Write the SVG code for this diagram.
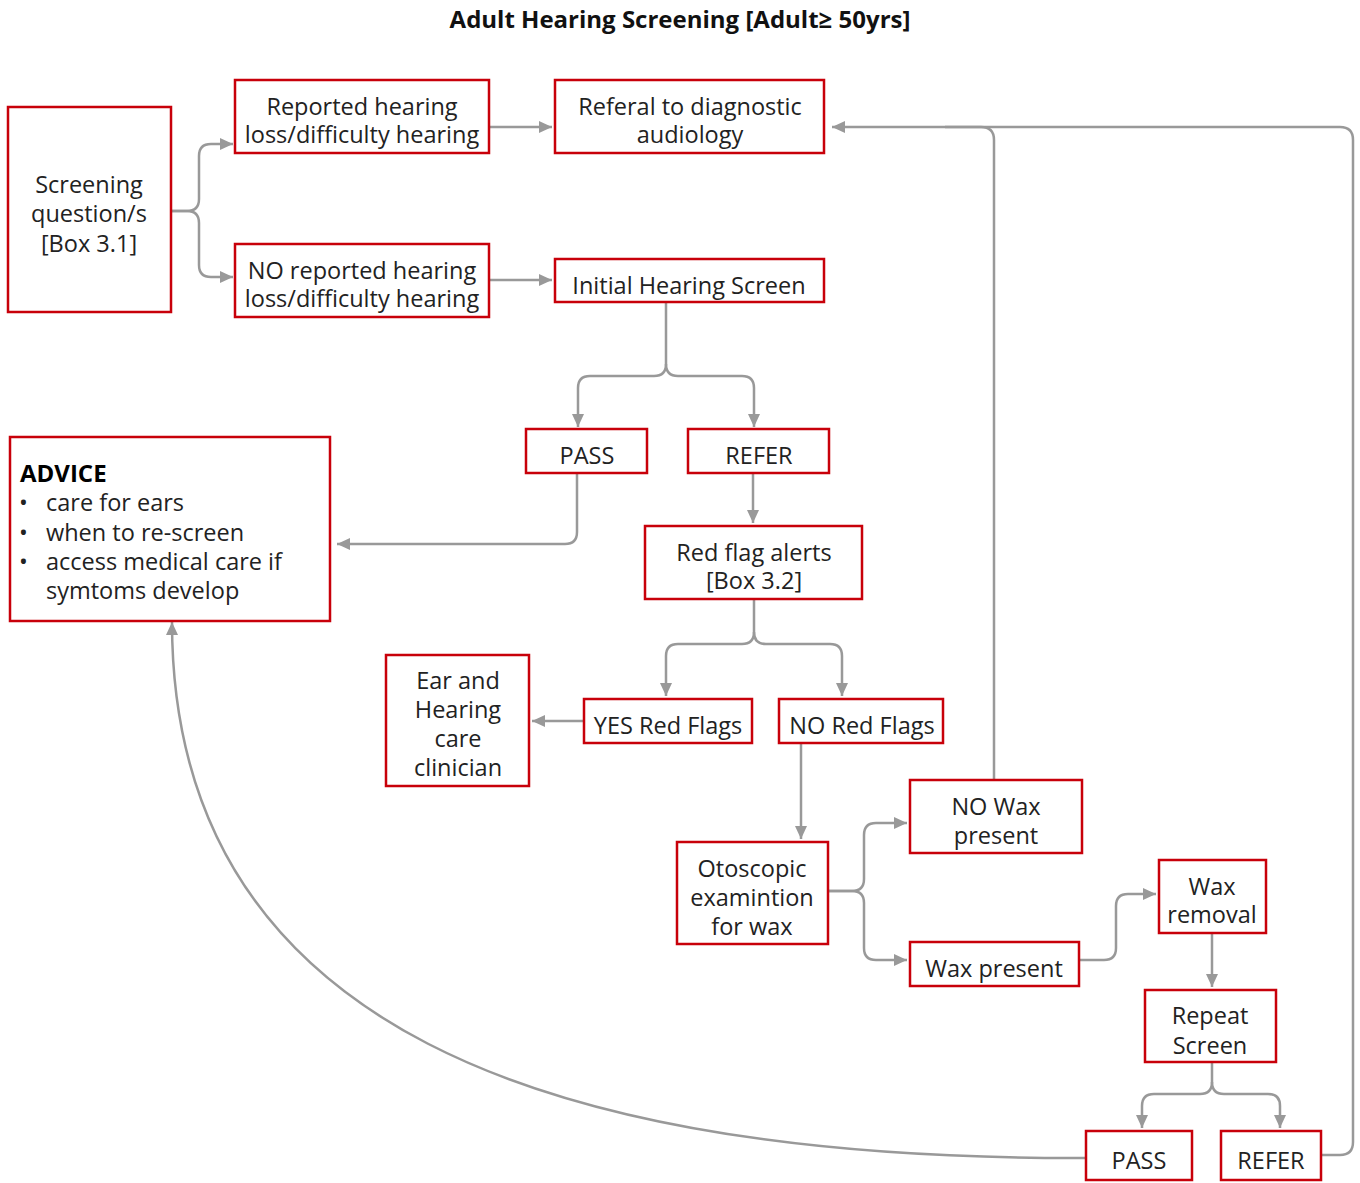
<svg xmlns="http://www.w3.org/2000/svg" width="1360" height="1183" viewBox="0 0 1360 1183">
<style>
.box{fill:#fff;stroke:#c8000a;stroke-width:2.5}
.t{font-family:"Open Sans","Noto Sans","Liberation Sans",sans-serif;font-size:23.5px;fill:#222;text-anchor:middle}
.l{text-anchor:start}
.b{font-weight:bold;font-size:24px;fill:#000}
.title{font-family:"Open Sans","Noto Sans","Liberation Sans",sans-serif;font-size:24px;font-weight:bold;fill:#111;text-anchor:middle}
.c{fill:none;stroke:#999;stroke-width:2.5}
.a{marker-end:url(#ah)}
</style>
<defs>
<marker id="ah" markerUnits="userSpaceOnUse" markerWidth="14" markerHeight="14" viewBox="0 0 14 14" refX="13" refY="7" orient="auto">
<path d="M0,1 L13,7 L0,13 z" fill="#999"/>
</marker>
</defs>
<rect width="1360" height="1183" fill="#fff"/>
<text class="title" x="680" y="28">Adult Hearing Screening [Adult≥ 50yrs]</text>

<g id="connectors">
<path class="c a" d="M171,211 H187 Q199,211 199,199 V156 Q199,144 211,144 H233"/>
<path class="c a" d="M171,211 H187 Q199,211 199,223 V265 Q199,277 211,277 H233"/>
<path class="c a" d="M480,127 H552"/>
<path class="c a" d="M489,280 H552"/>
<path class="c a" d="M666,302 V364 Q666,376 654,376 H590 Q578,376 578,388 V427"/>
<path class="c a" d="M666,364 Q666,376 678,376 H742 Q754,376 754,388 V427"/>
<path class="c a" d="M577,473 V532 Q577,544 565,544 H337"/>
<path class="c a" d="M753,473 V523"/>
<path class="c a" d="M754,599 V632 Q754,644 742,644 H678 Q666,644 666,656 V696"/>
<path class="c a" d="M754,632 Q754,644 766,644 H830 Q842,644 842,656 V696"/>
<path class="c a" d="M584,721 H532"/>
<path class="c a" d="M801,743 V839"/>
<path class="c a" d="M828,891 H852 Q864,891 864,879 V835 Q864,823 876,823 H907"/>
<path class="c a" d="M828,891 H852 Q864,891 864,903 V948 Q864,960 876,960 H907"/>
<path class="c a" d="M1079,960 H1104 Q1116,960 1116,948 V906 Q1116,894 1128,894 H1156"/>
<path class="c a" d="M1212,933 V987"/>
<path class="c a" d="M1212,1062 V1082 Q1212,1094 1200,1094 H1154 Q1142,1094 1142,1106 V1128"/>
<path class="c a" d="M1212,1082 Q1212,1094 1224,1094 H1268 Q1280,1094 1280,1106 V1128"/>
<path class="c a" d="M1321,1155 H1340 Q1353,1155 1353,1142 V140 Q1353,127 1340,127 H832"/>
<path class="c" d="M994,780 V140 Q994,127 981,127 H945"/>
<path class="c a" d="M1086,1158 C550,1160 172,1030 172,622"/>
</g>

<g id="screening"><rect class="box" x="8" y="107" width="163" height="205"/>
<text class="t" x="89" y="193">Screening</text><text class="t" x="89" y="222">question/s</text><text class="t" x="89" y="252">[Box 3.1]</text></g>

<g id="reported"><rect class="box" x="235" y="80" width="254" height="73"/>
<text class="t" x="362" y="115">Reported hearing</text><text class="t" x="362" y="143">loss/difficulty hearing</text></g>

<g id="no-reported"><rect class="box" x="235" y="244" width="254" height="73"/>
<text class="t" x="362" y="279">NO reported hearing</text><text class="t" x="362" y="307">loss/difficulty hearing</text></g>

<g id="referal"><rect class="box" x="555" y="80" width="269" height="73"/>
<text class="t" x="690" y="115">Referal to diagnostic</text><text class="t" x="690" y="143">audiology</text></g>

<g id="initial"><rect class="box" x="555" y="259" width="269" height="43"/>
<text class="t" x="689" y="294">Initial Hearing Screen</text></g>

<g id="pass1"><rect class="box" x="526" y="429" width="121" height="44"/>
<text class="t" x="587" y="464">PASS</text></g>

<g id="refer1"><rect class="box" x="688" y="429" width="141" height="44"/>
<text class="t" x="759" y="464">REFER</text></g>

<g id="advice"><rect class="box" x="10" y="437" width="320" height="184"/>
<text class="t l b" x="20" y="482">ADVICE</text>
<text class="t l" x="19" y="511">•</text><text class="t l" x="46" y="511">care for ears</text>
<text class="t l" x="19" y="541">•</text><text class="t l" x="46" y="541">when to re-screen</text>
<text class="t l" x="19" y="570">•</text><text class="t l" x="46" y="570">access medical care if</text>
<text class="t l" x="46" y="599">symtoms develop</text></g>

<g id="redflag"><rect class="box" x="645" y="526" width="217" height="73"/>
<text class="t" x="754" y="561">Red flag alerts</text><text class="t" x="754" y="589">[Box 3.2]</text></g>

<g id="ear"><rect class="box" x="386" y="655" width="143" height="131"/>
<text class="t" x="458" y="689">Ear and</text><text class="t" x="458" y="718">Hearing</text><text class="t" x="458" y="747">care</text><text class="t" x="458" y="776">clinician</text></g>

<g id="yes-flags"><rect class="box" x="584" y="699" width="168" height="44"/>
<text class="t" x="668" y="734">YES Red Flags</text></g>

<g id="no-flags"><rect class="box" x="779" y="699" width="164" height="44"/>
<text class="t" x="862" y="734">NO Red Flags</text></g>

<g id="otoscopic"><rect class="box" x="677" y="842" width="151" height="102"/>
<text class="t" x="752" y="877">Otoscopic</text><text class="t" x="752" y="906">examintion</text><text class="t" x="752" y="935">for wax</text></g>

<g id="no-wax"><rect class="box" x="910" y="780" width="172" height="73"/>
<text class="t" x="996" y="815">NO Wax</text><text class="t" x="996" y="844">present</text></g>

<g id="wax-removal"><rect class="box" x="1159" y="860" width="107" height="73"/>
<text class="t" x="1212" y="895">Wax</text><text class="t" x="1212" y="923">removal</text></g>

<g id="wax-present"><rect class="box" x="910" y="942" width="169" height="44"/>
<text class="t" x="994" y="977">Wax present</text></g>

<g id="repeat"><rect class="box" x="1145" y="990" width="131" height="72"/>
<text class="t" x="1210" y="1024">Repeat</text><text class="t" x="1210" y="1054">Screen</text></g>

<g id="pass2"><rect class="box" x="1086" y="1131" width="106" height="49"/>
<text class="t" x="1139" y="1169">PASS</text></g>

<g id="refer2"><rect class="box" x="1221" y="1131" width="100" height="49"/>
<text class="t" x="1271" y="1169">REFER</text></g>
</svg>
